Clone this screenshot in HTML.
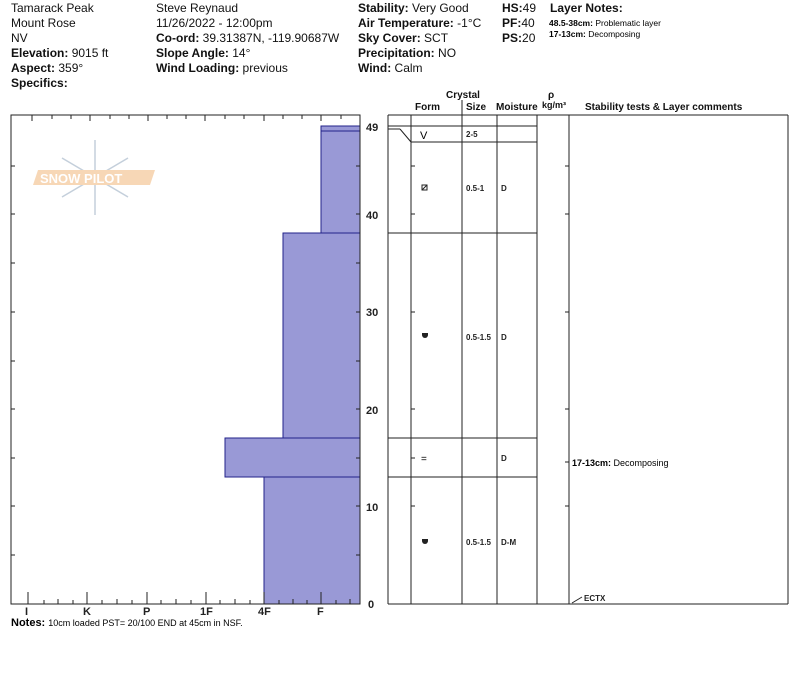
<!DOCTYPE html>
<html><head><style>
body{margin:0;background:#fff;font-family:"Liberation Sans",sans-serif;}
svg text{font-family:"Liberation Sans",sans-serif;}
</style></head><body>
<svg width="800" height="676" xmlns="http://www.w3.org/2000/svg">
<g font-size="12" fill="#111">
<text x="11" y="12">Tamarack Peak</text>
<text x="11" y="27">Mount Rose</text>
<text x="11" y="42">NV</text>
<text x="11" y="57"><tspan font-weight="bold">Elevation:</tspan> 9015 ft</text>
<text x="11" y="72"><tspan font-weight="bold">Aspect:</tspan> 359°</text>
<text x="11" y="87" font-weight="bold">Specifics:</text>
<text x="156" y="12">Steve Reynaud</text>
<text x="156" y="27">11/26/2022 - 12:00pm</text>
<text x="156" y="42"><tspan font-weight="bold">Co-ord:</tspan> 39.31387N, -119.90687W</text>
<text x="156" y="57"><tspan font-weight="bold">Slope Angle:</tspan> 14°</text>
<text x="156" y="72"><tspan font-weight="bold">Wind Loading:</tspan> previous</text>
<text x="358" y="12"><tspan font-weight="bold">Stability:</tspan> Very Good</text>
<text x="358" y="27"><tspan font-weight="bold">Air Temperature:</tspan> -1°C</text>
<text x="358" y="42"><tspan font-weight="bold">Sky Cover:</tspan> SCT</text>
<text x="358" y="57"><tspan font-weight="bold">Precipitation:</tspan> NO</text>
<text x="358" y="72"><tspan font-weight="bold">Wind:</tspan>  Calm</text>
<text x="502" y="12"><tspan font-weight="bold">HS:</tspan>49</text>
<text x="502" y="27"><tspan font-weight="bold">PF:</tspan>40</text>
<text x="502" y="42"><tspan font-weight="bold">PS:</tspan>20</text>
<text x="550" y="12" font-weight="bold">Layer Notes:</text>
</g>
<text x="549" y="26" font-size="8.5"><tspan font-weight="bold">48.5-38cm:</tspan> Problematic layer</text>
<text x="549" y="37" font-size="8.5"><tspan font-weight="bold">17-13cm:</tspan> Decomposing</text>
<g font-size="10" font-weight="bold" fill="#111">
<text x="446" y="98">Crystal</text>
<text x="415" y="110">Form</text>
<text x="466" y="110">Size</text>
<text x="496" y="110">Moisture</text>
<text x="548" y="98">ρ</text>
<text x="542" y="108" font-size="9">kg/m³</text>
<text x="585" y="110">Stability tests &amp; Layer comments</text>
</g>
<!-- logo -->
<g opacity="0.5">
<g stroke="#8aa0b8" stroke-width="1.5" fill="none">
<line x1="95" y1="140" x2="95" y2="215"/><line x1="62" y1="158" x2="128" y2="197"/><line x1="62" y1="197" x2="128" y2="158"/>
</g>
<polygon points="38,170 155,170 150,185 33,185" fill="#f0b070"/>
<text x="40" y="183" font-size="13" fill="#fff" font-weight="bold">SNOW PILOT</text>
</g>
<!-- bars -->
<g fill="#9999d6" stroke="#22228a" stroke-width="1">
<rect x="264" y="477" width="96" height="127"/>
<rect x="225" y="438" width="135" height="39"/>
<rect x="283" y="233" width="77" height="205"/>
<rect x="321" y="131" width="39" height="102"/>
<rect x="321" y="126" width="39" height="5"/>
</g>
<!-- plot frame -->
<g stroke="#222" stroke-width="1" fill="none">
<rect x="11" y="115" width="349" height="489"/>
</g>
<g stroke="#222" stroke-width="1">
<line x1="28" y1="604" x2="28" y2="592"/><line x1="87" y1="604" x2="87" y2="592"/><line x1="147" y1="604" x2="147" y2="592"/><line x1="206" y1="604" x2="206" y2="592"/><line x1="264" y1="604" x2="264" y2="592"/><line x1="321" y1="604" x2="321" y2="592"/>
<line x1="58" y1="604" x2="58" y2="599"/><line x1="117" y1="604" x2="117" y2="599"/><line x1="176" y1="604" x2="176" y2="599"/><line x1="235" y1="604" x2="235" y2="599"/><line x1="293" y1="604" x2="293" y2="599"/><line x1="350" y1="604" x2="350" y2="599"/>
<line x1="44" y1="604" x2="44" y2="600"/><line x1="73" y1="604" x2="73" y2="600"/><line x1="102" y1="604" x2="102" y2="600"/><line x1="132" y1="604" x2="132" y2="600"/><line x1="161" y1="604" x2="161" y2="600"/><line x1="191" y1="604" x2="191" y2="600"/><line x1="220" y1="604" x2="220" y2="600"/><line x1="250" y1="604" x2="250" y2="600"/><line x1="279" y1="604" x2="279" y2="600"/><line x1="307" y1="604" x2="307" y2="600"/><line x1="336" y1="604" x2="336" y2="600"/>
<line x1="32" y1="115" x2="32" y2="121"/><line x1="52" y1="115" x2="52" y2="119"/><line x1="71" y1="115" x2="71" y2="119"/><line x1="90" y1="115" x2="90" y2="121"/><line x1="110" y1="115" x2="110" y2="119"/><line x1="129" y1="115" x2="129" y2="119"/><line x1="148" y1="115" x2="148" y2="121"/><line x1="167" y1="115" x2="167" y2="119"/><line x1="186" y1="115" x2="186" y2="119"/><line x1="205" y1="115" x2="205" y2="121"/><line x1="225" y1="115" x2="225" y2="119"/><line x1="244" y1="115" x2="244" y2="119"/><line x1="264" y1="115" x2="264" y2="121"/><line x1="283" y1="115" x2="283" y2="119"/><line x1="302" y1="115" x2="302" y2="119"/><line x1="321" y1="115" x2="321" y2="121"/><line x1="341" y1="115" x2="341" y2="119"/>
<line x1="11" y1="166" x2="15" y2="166"/><line x1="11" y1="214" x2="15" y2="214"/><line x1="11" y1="312" x2="15" y2="312"/><line x1="11" y1="409" x2="15" y2="409"/><line x1="11" y1="506" x2="15" y2="506"/><line x1="11" y1="263" x2="15" y2="263"/><line x1="11" y1="361" x2="15" y2="361"/><line x1="11" y1="458" x2="15" y2="458"/><line x1="11" y1="555" x2="15" y2="555"/>
<line x1="356" y1="166" x2="360" y2="166"/><line x1="356" y1="214" x2="360" y2="214"/><line x1="356" y1="263" x2="360" y2="263"/><line x1="356" y1="312" x2="360" y2="312"/><line x1="356" y1="361" x2="360" y2="361"/><line x1="356" y1="409" x2="360" y2="409"/><line x1="356" y1="458" x2="360" y2="458"/><line x1="356" y1="506" x2="360" y2="506"/><line x1="356" y1="555" x2="360" y2="555"/>
</g>
<g font-size="11" font-weight="bold" fill="#222">
<text x="25" y="615">I</text><text x="83" y="615">K</text><text x="143" y="615">P</text><text x="200" y="615">1F</text><text x="258" y="615">4F</text><text x="317" y="615">F</text>
<text x="366" y="131">49</text><text x="366" y="219">40</text><text x="366" y="316">30</text><text x="366" y="414">20</text><text x="366" y="511">10</text><text x="368" y="608">0</text>
</g>
<text x="11" y="626" font-size="11"><tspan font-weight="bold">Notes:</tspan> <tspan font-size="9">10cm loaded PST= 20/100 END at 45cm in NSF.</tspan></text>
<!-- table -->
<g stroke="#222" stroke-width="1" fill="none">
<line x1="388" y1="115" x2="788" y2="115"/>
<line x1="388" y1="604" x2="788" y2="604"/>
<line x1="388" y1="115" x2="388" y2="604"/>
<line x1="411" y1="115" x2="411" y2="604"/>
<line x1="462" y1="100" x2="462" y2="604"/>
<line x1="497" y1="115" x2="497" y2="604"/>
<line x1="537" y1="115" x2="537" y2="604"/>
<line x1="569" y1="115" x2="569" y2="604"/>
<line x1="788" y1="115" x2="788" y2="604"/>
<line x1="388" y1="126" x2="537" y2="126"/>
<line x1="411" y1="142" x2="537" y2="142"/>
<line x1="388" y1="129" x2="400" y2="129"/><line x1="400" y1="129" x2="411" y2="142"/>
<line x1="388" y1="233" x2="537" y2="233"/>
<line x1="388" y1="438" x2="537" y2="438"/>
<line x1="388" y1="477" x2="537" y2="477"/>
<line x1="411" y1="166" x2="415" y2="166"/><line x1="411" y1="214" x2="415" y2="214"/><line x1="411" y1="312" x2="415" y2="312"/><line x1="411" y1="409" x2="415" y2="409"/><line x1="411" y1="458" x2="415" y2="458"/><line x1="411" y1="506" x2="415" y2="506"/>
<line x1="565" y1="166" x2="569" y2="166"/><line x1="565" y1="214" x2="569" y2="214"/><line x1="565" y1="312" x2="569" y2="312"/><line x1="565" y1="409" x2="569" y2="409"/><line x1="565" y1="462" x2="569" y2="462"/><line x1="565" y1="506" x2="569" y2="506"/>
<line x1="572" y1="603" x2="582" y2="597"/>
<rect x="422" y="185" width="5" height="5"/>
<line x1="422" y1="190" x2="427" y2="185"/>
</g>
<text x="420" y="139" font-size="11">V</text>
<path d="M422 333 h6 v2 a3 3 0 0 1 -6 0z" fill="#222"/>
<path d="M422 539 h6 v2 a3 3 0 0 1 -6 0z" fill="#222"/>
<text x="421" y="462" font-size="10">=</text>
<g font-size="8" font-weight="bold" fill="#222">
<text x="466" y="137">2-5</text>
<text x="466" y="191">0.5-1</text><text x="501" y="191">D</text>
<text x="466" y="340">0.5-1.5</text><text x="501" y="340">D</text>
<text x="501" y="461">D</text>
<text x="466" y="545">0.5-1.5</text><text x="501" y="545">D-M</text>
<text x="584" y="601">ECTX</text>
</g>
<text x="572" y="466" font-size="9"><tspan font-weight="bold">17-13cm:</tspan> Decomposing</text>
</svg>
</body></html>
